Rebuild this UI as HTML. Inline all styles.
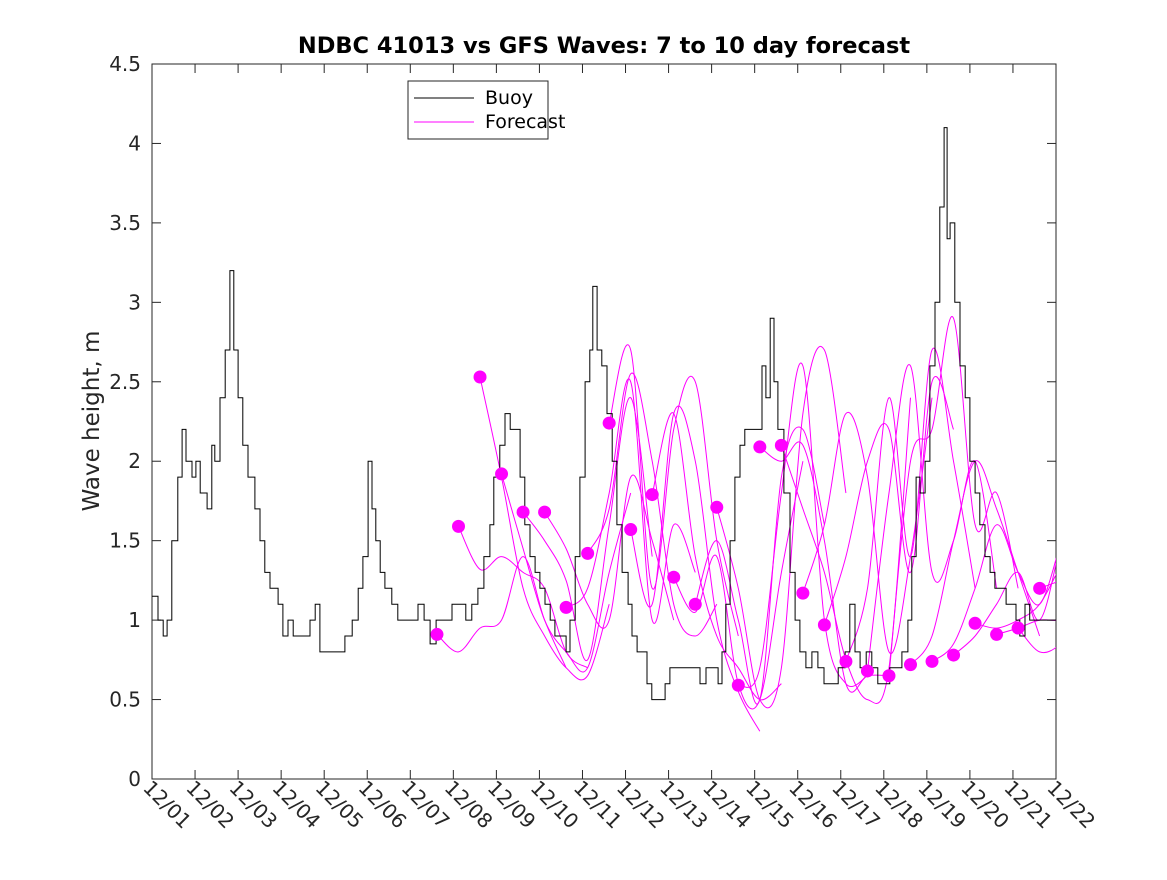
<!DOCTYPE html>
<html><head><meta charset="utf-8"><style>
html,body{margin:0;padding:0;background:#fff;}
svg text{font-family:"DejaVu Sans","Liberation Sans",sans-serif;}
</style></head><body>
<svg id="chart" width="1167" height="875" viewBox="0 0 1167 875" xmlns="http://www.w3.org/2000/svg">
<rect x="0" y="0" width="1167" height="875" fill="#fff"/>
<defs><clipPath id="clip"><rect x="152" y="64" width="904" height="715"/></clipPath></defs>
<text x="604" y="53" text-anchor="middle" font-size="22.5" font-weight="bold" fill="#000">NDBC 41013 vs GFS Waves: 7 to 10 day forecast</text>
<text transform="translate(99,421) rotate(-90)" text-anchor="middle" font-size="23" fill="#262626">Wave height, m</text>
<g id="axes"></g>
<g id="marks" clip-path="url(#clip)"></g>
<g id="dots"></g>
<g>
<rect x="408" y="81" width="140" height="58" fill="#fff" stroke="#262626" stroke-width="1"/>
<line x1="414" y1="98" x2="474" y2="98" stroke="#000" stroke-width="1"/>
<text x="485" y="104" font-size="19" fill="#000">Buoy</text>
<line x1="414" y1="122" x2="474" y2="122" stroke="#f0f" stroke-width="1"/>
<text x="485" y="128" font-size="19" fill="#000">Forecast</text>
</g>
</svg>
<script>
const xTickLabels=["12/01","12/02","12/03","12/04","12/05","12/06","12/07","12/08","12/09","12/10","12/11","12/12","12/13","12/14","12/15","12/16","12/17","12/18","12/19","12/20","12/21","12/22"];
const yTicks=[0,0.5,1,1.5,2,2.5,3,3.5,4,4.5];
const buoyDays=[0,0.14,0.26,0.35,0.46,0.60,0.70,0.79,0.93,1.02,1.12,1.28,1.39,1.46,1.58,1.70,1.81,1.90,2.00,2.11,2.23,2.39,2.51,2.62,2.74,2.93,3.04,3.16,3.28,3.44,3.58,3.67,3.79,3.90,4.14,4.32,4.48,4.65,4.79,4.90,5.02,5.11,5.20,5.30,5.41,5.57,5.71,5.88,6.04,6.18,6.32,6.46,6.60,6.81,6.97,7.15,7.29,7.43,7.57,7.71,7.85,7.94,8.08,8.20,8.32,8.43,8.55,8.66,8.78,8.90,9.01,9.13,9.25,9.36,9.52,9.62,9.71,9.83,9.94,10.06,10.17,10.24,10.34,10.45,10.57,10.69,10.80,10.92,11.06,11.15,11.27,11.38,11.50,11.61,11.80,11.92,12.03,12.26,12.50,12.73,12.87,13.01,13.15,13.24,13.33,13.43,13.54,13.66,13.77,13.89,14.03,14.17,14.26,14.36,14.45,14.54,14.68,14.82,14.94,15.05,15.19,15.33,15.47,15.61,15.80,15.94,16.10,16.21,16.33,16.45,16.59,16.72,16.86,17.00,17.14,17.28,17.42,17.56,17.65,17.75,17.84,17.96,18.07,18.19,18.30,18.40,18.47,18.54,18.65,18.77,18.89,19.00,19.12,19.23,19.35,19.47,19.58,19.70,19.84,19.98,20.07,20.16,20.28,20.39,20.63,21.00];
const buoyHeights=[1.15,1.0,0.9,1.0,1.5,1.9,2.2,2.0,1.9,2.0,1.8,1.7,2.1,2.0,2.4,2.7,3.2,2.7,2.4,2.1,1.9,1.7,1.5,1.3,1.2,1.1,0.9,1.0,0.9,0.9,0.9,1.0,1.1,0.8,0.8,0.8,0.9,1.0,1.2,1.4,2.0,1.7,1.5,1.3,1.2,1.1,1.0,1.0,1.0,1.1,1.0,0.85,1.0,1.0,1.1,1.1,1.0,1.1,1.2,1.4,1.6,1.9,2.1,2.3,2.2,2.2,1.9,1.6,1.4,1.3,1.2,1.1,1.0,0.9,0.9,0.8,1.0,1.4,1.9,2.5,2.7,3.1,2.7,2.6,2.3,2.0,1.6,1.3,1.1,0.9,0.8,0.8,0.6,0.5,0.5,0.6,0.7,0.7,0.7,0.6,0.7,0.7,0.6,0.8,1.1,1.5,1.9,2.1,2.2,2.2,2.2,2.6,2.4,2.9,2.5,2.2,1.8,1.3,1.0,0.8,0.7,0.8,0.7,0.6,0.6,0.7,0.8,1.1,0.8,0.7,0.8,0.7,0.6,0.6,0.7,0.7,0.8,1.0,1.4,1.9,1.8,2.0,2.6,3.0,3.6,4.1,3.4,3.5,3.0,2.6,2.4,2.0,1.8,1.6,1.4,1.3,1.2,1.2,1.1,1.1,1.0,0.9,1.1,1.0,1.0,1.0];
const forecastStartDay=6.62;
const forecastSpacingDays=0.5;
const forecastStepDays=0.5;
const forecastDots=[0.91,1.59,2.53,1.92,1.68,1.68,1.08,1.42,2.24,1.57,1.79,1.27,1.10,1.71,0.59,2.09,2.10,1.17,0.97,0.74,0.68,0.65,0.72,0.74,0.78,0.98,0.91,0.95,1.20];
const forecastLines=[
[0.91,0.80,0.95,1.0,1.4,1.0,0.7],[1.59,1.32,1.4,1.3,1.2,0.8,0.7],[2.53,1.9,1.2,0.9,0.7,0.65,1.1],
[1.92,1.45,1.0,0.8,0.7,1.3,1.8],[1.68,1.5,1.25,0.75,1.6,2.4,1.4],[1.68,1.45,1.1,1.0,1.9,1.5,1.0],
[1.08,1.2,1.8,2.5,1.0,1.6,1.3],[1.42,1.7,2.55,2.0,1.1,0.9,1.1],[2.24,2.7,1.2,2.2,2.5,1.5,0.9],
[1.57,1.1,2.3,2.0,1.0,0.55,0.3],[1.79,2.3,1.4,0.9,0.7,0.5,0.6],[1.27,1.05,1.4,0.6,0.5,1.3,2.0],
[1.10,1.5,1.0,0.5,1.9,2.2,1.6],[1.71,1.2,0.5,0.7,2.3,2.7,1.8],[0.59,0.7,1.8,2.6,1.0,0.6,0.65],
[2.09,2.0,2.1,1.5,0.6,0.65,0.65],[2.10,1.7,1.3,0.75,0.5,0.7,2.4],[1.17,1.6,2.3,1.9,0.8,1.4,2.4],
[0.97,1.4,2.0,2.2,1.3,2.5,2.2],[0.74,1.2,2.4,1.4,2.7,2.0,1.2],[0.68,1.8,2.6,1.3,1.5,2.0,1.2],
[0.65,2.0,2.2,2.9,1.6,1.8,1.2],[0.72,0.9,1.5,2.0,1.7,1.3,0.9],[0.74,0.85,1.2,1.6,1.3,1.1,1.5],
[0.78,0.9,1.1,1.3,1.0,1.5,2.1],[0.98,0.95,1.0,1.1,1.35,1.6,1.5],[0.91,0.95,1.0,1.0,1.05,1.1,1.2],
[0.95,0.8,0.85,1.0,1.0],[1.20,1.25,1.3]];

const NS="http://www.w3.org/2000/svg";
const X0=152,X1=1056,Y0=779,Y1=64,DAYS=21,YMAX=4.5;
function xs(d){return X0+(X1-X0)*d/DAYS;}
function ys(v){return Y0-(Y0-Y1)*v/YMAX;}
function mk(tag,attrs,parent){const e=document.createElementNS(NS,tag);for(const k in attrs)e.setAttribute(k,attrs[k]);parent.appendChild(e);return e;}
function smoothPath(pts){
 let d='M'+pts[0][0].toFixed(1)+','+pts[0][1].toFixed(1);
 for(let i=0;i<pts.length-1;i++){
  const p0=pts[Math.max(0,i-1)],p1=pts[i],p2=pts[i+1],p3=pts[Math.min(pts.length-1,i+2)];
  const c1=[p1[0]+(p2[0]-p0[0])/6,p1[1]+(p2[1]-p0[1])/6];
  const c2=[p2[0]-(p3[0]-p1[0])/6,p2[1]-(p3[1]-p1[1])/6];
  d+=' C'+c1[0].toFixed(1)+','+c1[1].toFixed(1)+' '+c2[0].toFixed(1)+','+c2[1].toFixed(1)+' '+p2[0].toFixed(1)+','+p2[1].toFixed(1);
 }
 return d;
}
const axes=document.getElementById('axes'),marks=document.getElementById('marks'),dots=document.getElementById('dots');
const frame=mk('rect',{x:X0,y:Y1,width:X1-X0,height:Y0-Y1,fill:'none',stroke:'#262626','stroke-width':1},axes);


yTicks.forEach(v=>{const y=ys(v);
 mk('line',{x1:X0,y1:y,x2:X0+9,y2:y,stroke:'#262626'},axes);
 mk('line',{x1:X1,y1:y,x2:X1-9,y2:y,stroke:'#262626'},axes);
 const t=mk('text',{x:X0-11,y:y+7,'text-anchor':'end','font-size':20,fill:'#262626'},axes);
 t.textContent=String(v);
 
 
});
xTickLabels.forEach((lab,i)=>{const x=xs(i);
 mk('line',{x1:x,y1:Y0,x2:x,y2:Y0-9,stroke:'#262626'},axes);
 mk('line',{x1:x,y1:Y1,x2:x,y2:Y1+9,stroke:'#262626'},axes);
 const t=mk('text',{transform:`translate(${x-10},${Y0+10}) rotate(45)`,'font-size':20,fill:'#262626'},axes);
 t.textContent=lab;
 
 
});
forecastLines.forEach((vals,i)=>{const s=forecastStartDay+i*forecastSpacingDays;
 const pts=vals.map((v,k)=>[xs(s+k*forecastStepDays),ys(v)]);
 const l=mk('path',{d:smoothPath(pts),fill:'none',stroke:'#f0f','stroke-width':1},marks);
 
 
});
let bp='';
buoyDays.forEach((d,i)=>{const x=xs(d).toFixed(1),y=ys(buoyHeights[i]).toFixed(1);
 if(i===0){bp='M'+x+','+y;}else{bp+=' H'+x+' V'+y;}
});
const bl=mk('path',{d:bp,fill:'none',stroke:'#000','stroke-width':1},marks);


forecastDots.forEach((v,i)=>{const c=mk('circle',{cx:xs(forecastStartDay+i*forecastSpacingDays),cy:ys(v),r:6.5,fill:'#f0f'},dots);
 
 
});
</script>
</body></html>
